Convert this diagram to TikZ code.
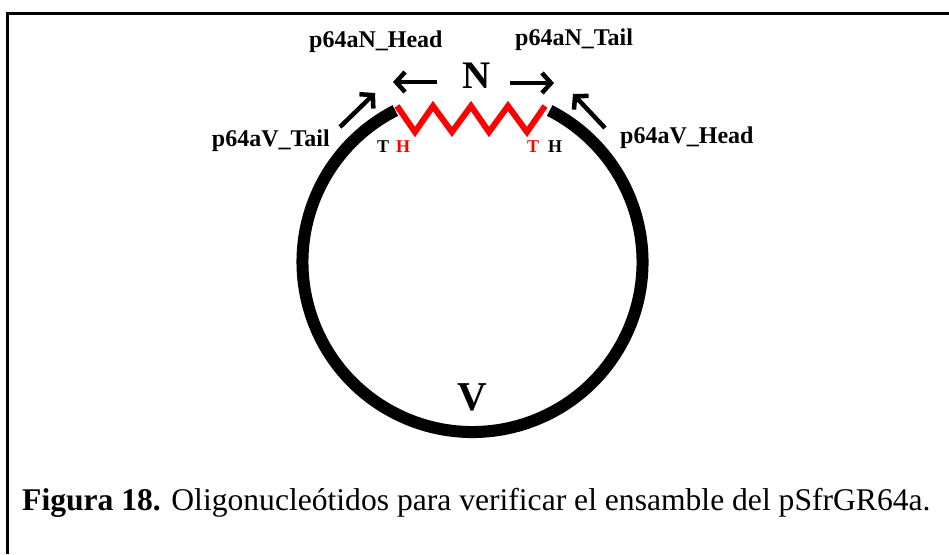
\documentclass[tikz,border=0pt]{standalone}
\usepackage{fontspec}
\setmainfont{Liberation Serif}
\usetikzlibrary{arrows.meta}
\tikzset{
  lbl/.style={font=\fontsize{24}{28}\selectfont\bfseries, inner sep=0pt},
  big/.style={font=\fontsize{39}{44}\selectfont\bfseries, inner sep=0pt, anchor=base},
  th/.style={font=\fontsize{18}{20}\selectfont\bfseries, inner sep=0pt, anchor=base},
  primer/.style={line width=4.5pt, -{Straight Barb[length=9pt,width=20pt,line width=4.5pt]}},
  vector/.style={line width=12pt, line cap=butt},
  insert/.style={line width=6pt, red, line join=miter},
}
\begin{document}
\begin{tikzpicture}[x=1pt,y=-1pt]
\useasboundingbox (0,0) rectangle (949,554);
% frame
\draw[line width=3pt] (7,554) -- (7,13) -- (949,13);
% vector V (circle arc)
\coordinate (c) at (472.5,262);
\draw[vector] (c) ++(-63:170) arc[start angle=-63, end angle=243, radius=170];
% insert N (zigzag)
\draw[insert] (397,106) -- (415,132) -- (433,106) -- (452,132) -- (471,106)
  -- (489,132) -- (508,106) -- (527,132) -- (545,106);
% labels
\node[big] (N) at (477,88) {N};
\node[big, font=\fontsize{41}{46}\selectfont\bfseries] (V) at (472,410) {V};
\node[lbl, anchor=base west] (nh) at (309,47) {p64aN\_Head};
\node[lbl, anchor=base west] (nt) at (515,45) {p64aN\_Tail};
\node[lbl, anchor=base east] (vt) at (330,146) {p64aV\_Tail};
\node[lbl, anchor=base west] (vh) at (620,143) {p64aV\_Head};
\node[th] (t1) at (383,152) {T};
\node[th, red] (h1) at (403,152) {H};
\node[th, red] (t2) at (533,152) {T};
\node[th] (h2) at (555,152) {H};
% primer arrows
\coordinate (a1s) at (437,82); \coordinate (a1e) at (393,82);
\coordinate (a2s) at (510,83); \coordinate (a2e) at (554,83);
\coordinate (a3s) at (340,127); \coordinate (a3e) at (375,93);
\coordinate (a4s) at (605,128); \coordinate (a4e) at (573,94);
\draw[primer] (a1s) -- (a1e);
\draw[primer] (a2s) -- (a2e);
\draw[primer] (a3s) -- (a3e);
\draw[primer] (a4s) -- (a4e);
% caption
\node[anchor=base west, inner sep=0pt, font=\fontsize{31.6}{36}\selectfont] (cap) at (22,510)
  {\textbf{Figura 18.} Oligonucleótidos para verificar el ensamble del pSfrGR64a.};
\end{tikzpicture}
\end{document}
